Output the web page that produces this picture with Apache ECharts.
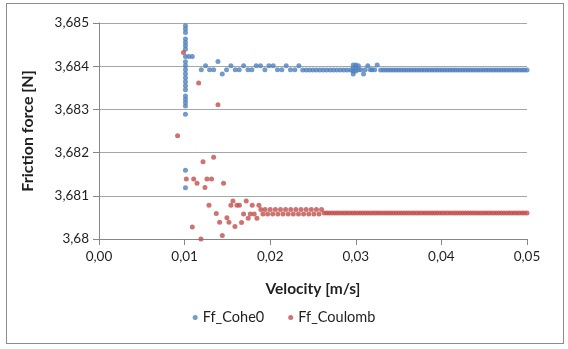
<!DOCTYPE html>
<html>
<head>
<meta charset="utf-8">
<script src="https://cdn.jsdelivr.net/npm/echarts@6/dist/echarts.min.js"></script>
<style>
html,body{margin:0;padding:0;background:#fff;}
#frame{position:absolute;left:6px;top:3px;width:556px;height:339px;border:1px solid #8c8c8c;}
#chart{position:absolute;left:0;top:0;width:568px;height:349px;}
</style>
</head>
<body>
<div id="frame"></div>
<div id="chart"></div>
<script>
// Tick labels
const xTickLabels = ['0,00','0,01','0,02','0,03','0,04','0,05'];
const yTickLabels = ['3,68','3,681','3,682','3,683','3,684','3,685'];

// Ff_Cohe0 : [velocity, force]
const cohe0Points = [
  [0.0101,3.684937],[0.0101,3.684861],[0.0101,3.684782],[0.0101,3.684629],[0.0101,3.684550],
  [0.0101,3.684473],[0.0101,3.684392],[0.0101,3.684225],[0.0105,3.684225],[0.0109,3.684225],
  [0.0101,3.684102],[0.0101,3.684009],[0.0101,3.683916],[0.0101,3.683824],[0.0101,3.683731],
  [0.0101,3.683638],[0.0101,3.683545],[0.0101,3.683452],[0.0101,3.683313],[0.0101,3.683237],
  [0.0101,3.683158],[0.0101,3.683081],[0.0101,3.682889],[0.0101,3.681589],[0.0101,3.681186],
  [0.01195,3.68392],[0.01245,3.68401],[0.01292,3.68392],[0.01339,3.68392],[0.0139,3.68411],
  [0.0144,3.68382],[0.0149,3.68392],[0.01541,3.68401],[0.01592,3.68392],[0.01638,3.68392],
  [0.01689,3.68401],[0.0174,3.68392],[0.01786,3.68392],[0.01837,3.68401],[0.01887,3.68401],
  [0.01938,3.68392],[0.01985,3.68401],[0.02035,3.68401],[0.02085,3.68392],[0.02136,3.68392],
  [0.02187,3.68401],[0.02237,3.68392],[0.02288,3.68392],[0.02335,3.68401],
  [0.0238,3.68391],[0.0242,3.68391],[0.0246,3.68391],[0.025,3.68391],[0.0254,3.68391],
  [0.0258,3.68391],[0.0262,3.68391],[0.0266,3.68391],[0.027,3.68391],[0.0274,3.68391],
  [0.0278,3.68391],[0.0282,3.68391],[0.0286,3.68391],[0.029,3.68391],[0.0294,3.68391],
  [0.0297,3.68403],[0.0297,3.68396],[0.0297,3.68389],[0.0297,3.68382],[0.03,3.68403],
  [0.03,3.68396],[0.03,3.68389],[0.0303,3.68401],[0.0303,3.68392],[0.0306,3.68392],
  [0.0309,3.68382],[0.0311,3.68392],[0.0314,3.68401],[0.0317,3.68392],[0.0319,3.68392],
  [0.0322,3.68392],[0.0325,3.68403]
];

// Ff_Coulomb : [velocity, force]
const coulombPoints = [
  [0.00918,3.68239],[0.00987,3.68432],[0.0102,3.68139],[0.0109,3.68028],[0.01106,3.68139],
  [0.01145,3.68129],[0.01164,3.68361],[0.01191,3.68],[0.01215,3.68179],[0.01238,3.68119],
  [0.01261,3.68139],[0.01285,3.68078],[0.01315,3.68139],[0.01339,3.68189],[0.0137,3.68059],
  [0.0139,3.68311],[0.01409,3.68039],[0.0144,3.68008],[0.01455,3.68129],[0.01494,3.68049],
  [0.01518,3.68039],[0.01541,3.68078],[0.01565,3.68088],[0.01588,3.68029],[0.01611,3.68078],
  [0.01641,3.68078],[0.01665,3.68038],[0.01689,3.68058],[0.0172,3.68088],[0.01743,3.68048],
  [0.01767,3.68058],[0.0179,3.68078],[0.01813,3.68058],[0.01845,3.68048],[0.01868,3.68078],
  [0.01891,3.68068],[0.01915,3.68058],
  [0.0194,3.68068],[0.0197,3.68058],[0.02,3.68068],[0.0203,3.68058],[0.0206,3.68068],
  [0.0209,3.68058],[0.0212,3.68068],[0.0215,3.68058],[0.0218,3.68068],[0.0221,3.68058],
  [0.0224,3.68068],[0.0227,3.68058],[0.023,3.68068],[0.0233,3.68058],[0.0236,3.68068],
  [0.0239,3.68058],[0.0242,3.68068],[0.0245,3.68058],[0.0248,3.68068],[0.0251,3.68058],
  [0.0254,3.68068],[0.0257,3.68058],[0.026,3.68068]
];

// Steady-state tail (both series settle to a constant level)
const tailVelocity = [
  0.0263,0.0266,0.0269,0.0272,0.0275,0.0278,0.0281,0.0284,0.0287,0.029,0.0293,0.0296,0.0299,0.0302,
  0.0305,0.0308,0.0311,0.0314,0.0317,0.032,0.0323,0.0326,0.0329,0.0332,0.0335,0.0338,0.0341,0.0344,
  0.0347,0.035,0.0353,0.0356,0.0359,0.0362,0.0365,0.0368,0.0371,0.0374,0.0377,0.038,0.0383,0.0386,
  0.0389,0.0392,0.0395,0.0398,0.0401,0.0404,0.0407,0.041,0.0413,0.0416,0.0419,0.0422,0.0425,0.0428,
  0.0431,0.0434,0.0437,0.044,0.0443,0.0446,0.0449,0.0452,0.0455,0.0458,0.0461,0.0464,0.0467,0.047,
  0.0473,0.0476,0.0479,0.0482,0.0485,0.0488,0.0491,0.0494,0.0497,0.05
];
const cohe0TailLevel = 3.68391;
const coulombTailLevel = 3.6806;
const cohe0TailStart = 0.0328;

const cohe0Data = cohe0Points.concat(
  tailVelocity.filter(v => v >= cohe0TailStart).map(v => [v, cohe0TailLevel]));
const coulombData = coulombPoints.concat(tailVelocity.map(v => [v, coulombTailLevel]));

const fontFam = 'Lato, "Liberation Sans", sans-serif';
const textCol = '#1f1f1f';
const chart = echarts.init(document.getElementById('chart'));
chart.setOption({
  animation: false,
  backgroundColor: 'transparent',
  grid: {left: 99, right: 41, top: 23, bottom: 110, containLabel: false, outerBoundsMode: 'none'},
  legend: {
    bottom: 19, left: 'center',
    icon: 'circle', itemWidth: 5, itemHeight: 5, itemGap: 24,
    textStyle: {fontFamily: fontFam, fontSize: 14.5, color: textCol},
    data: ['Ff_Cohe0', 'Ff_Coulomb']
  },
  xAxis: {
    type: 'value', min: 0, max: 0.05, interval: 0.01,
    name: 'Velocity [m/s]', nameLocation: 'middle', nameGap: 42,
    nameTextStyle: {fontFamily: fontFam, fontSize: 15.5, fontWeight: 'bold', color: textCol},
    axisLine: {show: true, lineStyle: {color: '#868686', width: 1}},
    axisTick: {show: true, length: 6, lineStyle: {color: '#868686'}},
    splitLine: {show: false},
    axisLabel: {
      margin: 11, fontFamily: fontFam, fontSize: 13.5, color: textCol,
      formatter: v => xTickLabels[Math.round(v / 0.01)]
    }
  },
  yAxis: {
    type: 'value', min: 3.68, max: 3.685, interval: 0.001,
    name: 'Friction force [N]', nameLocation: 'middle', nameGap: 63, nameRotate: 90,
    nameTextStyle: {fontFamily: fontFam, fontSize: 16, fontWeight: 'bold', color: textCol},
    axisLine: {show: true, lineStyle: {color: '#868686', width: 1}},
    axisTick: {show: true, length: 6, lineStyle: {color: '#868686'}},
    splitLine: {show: true, lineStyle: {color: '#a6a6a6', width: 1}},
    axisLabel: {
      margin: 10, fontFamily: fontFam, fontSize: 13.5, color: textCol,
      formatter: v => yTickLabels[Math.round((v - 3.68) / 0.001)]
    }
  },
  series: [
    {name: 'Ff_Cohe0', type: 'scatter', data: cohe0Data, symbol: 'circle', symbolSize: 5,
     itemStyle: {color: '#4f81bd'}},
    {name: 'Ff_Coulomb', type: 'scatter', data: coulombData, symbol: 'circle', symbolSize: 5,
     itemStyle: {color: '#c0504d'}}
  ]
});
</script>
</body>
</html>
